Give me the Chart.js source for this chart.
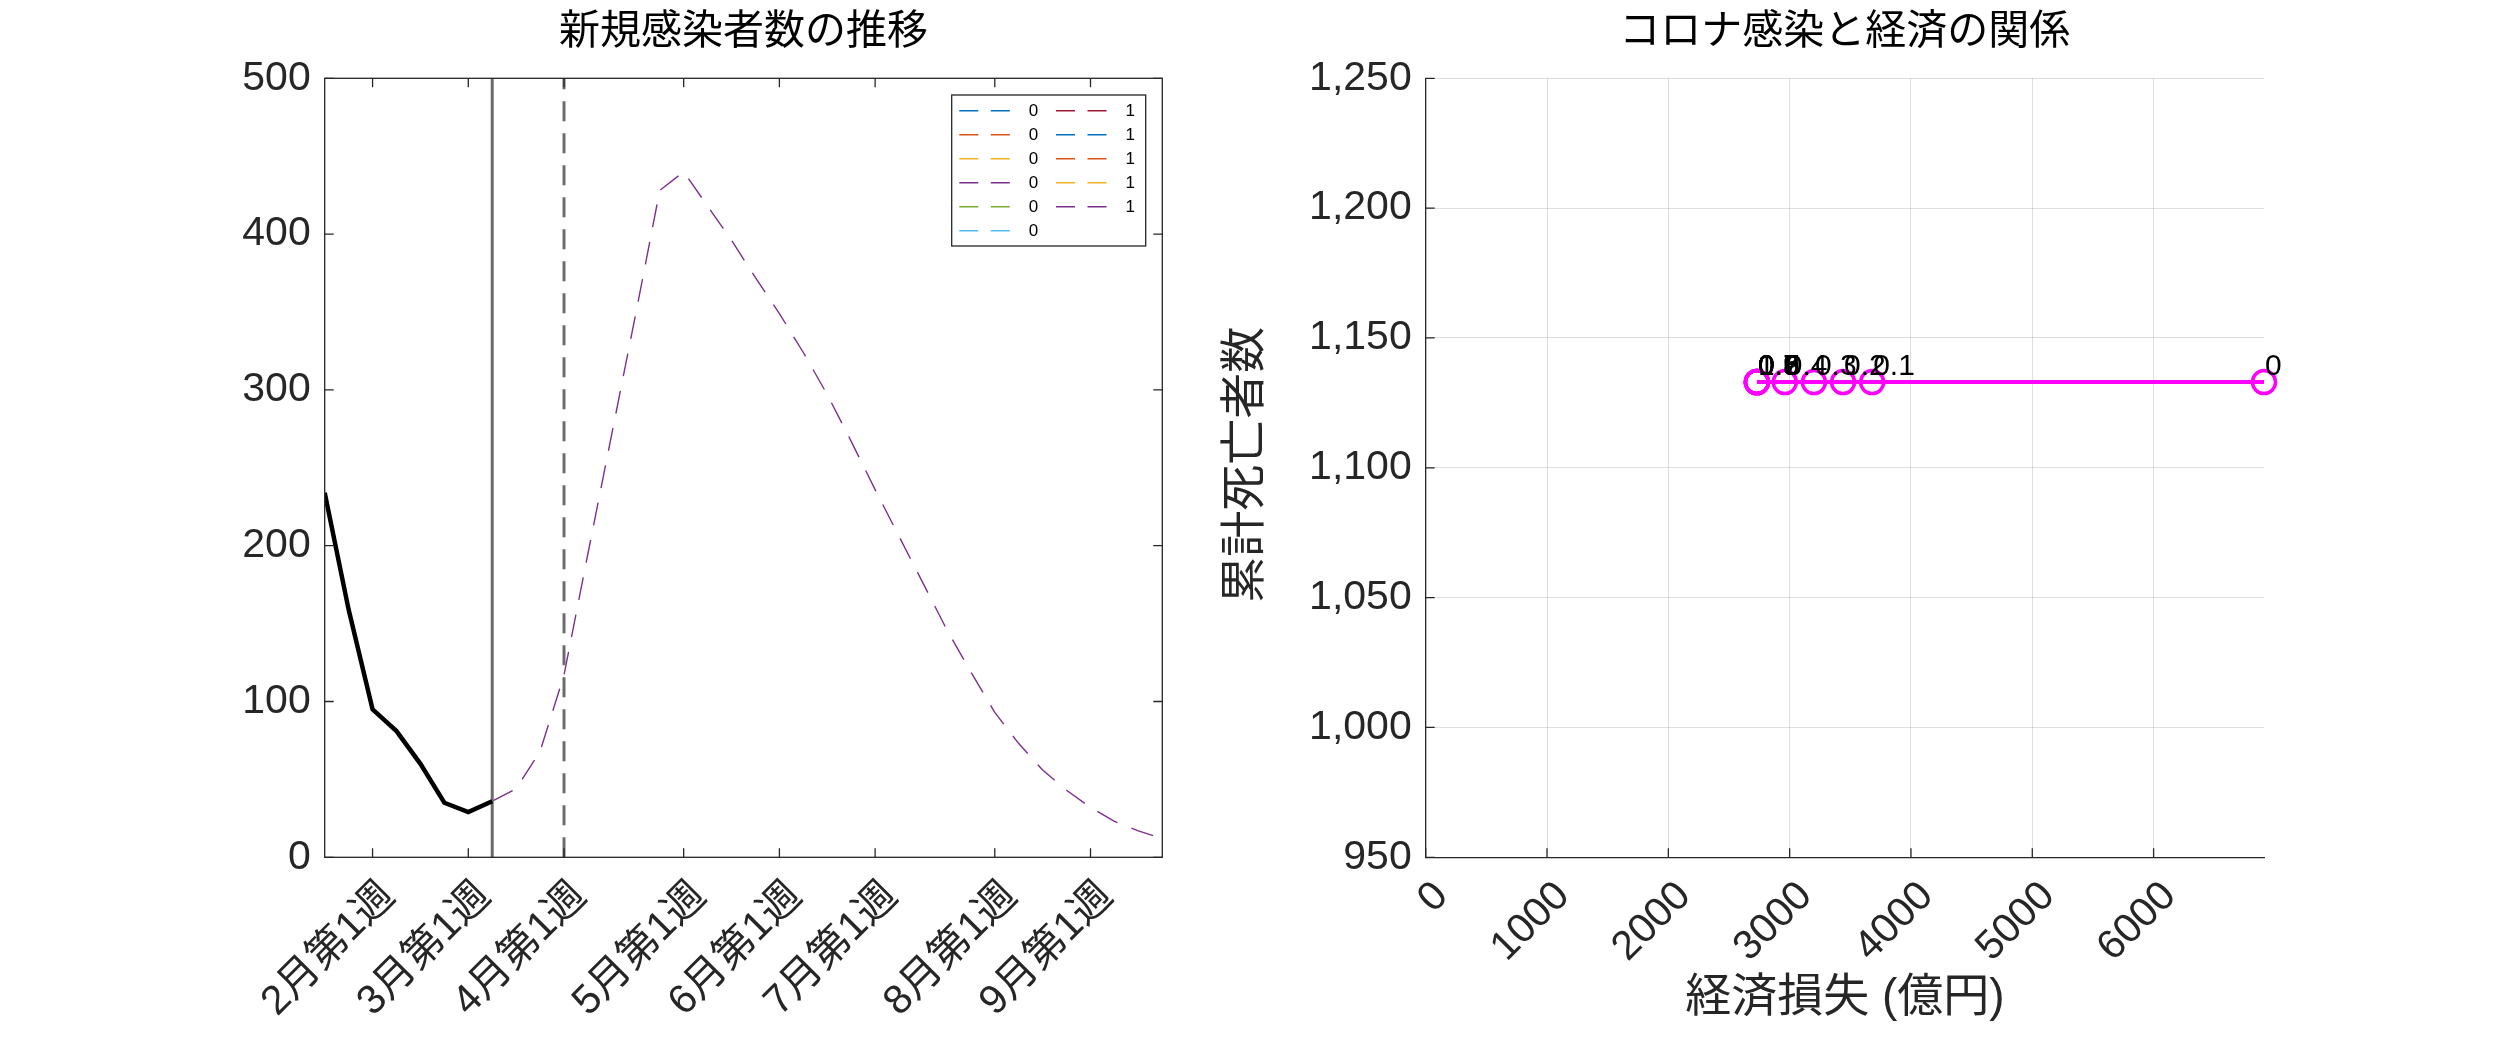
<!DOCTYPE html>
<html>
<head>
<meta charset="utf-8">
<script src="https://cdn.jsdelivr.net/npm/chart.js@4.4.0/dist/chart.umd.min.js"></script>
<style>
  html, body { margin: 0; padding: 0; background: #ffffff; }
  #wrap { position: relative; width: 2500px; height: 1042px; overflow: hidden; }
  canvas { position: absolute; top: 0; }
  #casesChart { left: 0; }
  #tradeoffChart { left: 1180px; }
</style>
</head>
<body>
<div id="wrap">
  <canvas id="casesChart" width="1180" height="1042"></canvas>
  <canvas id="tradeoffChart" width="1320" height="1042"></canvas>
</div>
<script>
// ---- left panel: weekly new cases ----
const weekTickPos = [2, 6, 10, 15, 19, 23, 28, 32];
const weekTickLabels = ['2月第1週', '3月第1週', '4月第1週', '5月第1週', '6月第1週', '7月第1週', '8月第1週', '9月第1週'];
const caseTicks = [0, 100, 200, 300, 400, 500];

const observedWeeks = [0, 1, 2, 3, 4, 5, 6, 7];
const observedCases = [234, 159, 95, 81, 60, 35, 29, 36];

const forecastWeeks = [7, 8, 9, 10, 11, 12, 13, 14, 15, 16, 17, 18, 19, 20, 21,
                       22, 23, 24, 25, 26, 27, 28, 29, 30, 31, 32, 33, 34, 35];
const forecastCases = [36, 44, 68, 117, 195, 272, 349, 428, 440, 418, 396, 372, 349, 324, 297,
                       267, 236, 206, 176, 146, 119, 93, 73, 56, 43, 32, 23, 17, 12];

// legend entries; only the last scenario's curve is visible in the picture
const scenarioLabels = ['0', '0', '0', '0', '0', '0', '1', '1', '1', '1', '1'];
const scenarioColors = ['#0072BD', '#D95319', '#EDB120', '#7E2F8E', '#77AC30', '#4DBEEE',
                        '#A2142F', '#0072BD', '#D95319', '#EDB120', '#7E2F8E'];
const visibleScenario = 10;

const currentWeek = 7;   // solid marker
const policyWeek = 10;   // dashed marker

// ---- right panel: infections vs economy ----
const lockdownLevels = ['1', '0.9', '0.8', '0.7', '0.6', '0.5', '0.4', '0.3', '0.2', '0.1', '0'];
const economicLoss = [2730, 2730, 2730, 2730, 2730, 2730, 2960, 3200, 3440, 3680, 6910];
const cumulativeDeaths = [1133, 1133, 1133, 1133, 1133, 1133, 1133, 1133, 1133, 1133, 1133];
const deathTicks = [950, 1000, 1050, 1100, 1150, 1200, 1250];
const lossTicks = [0, 1000, 2000, 3000, 4000, 5000, 6000];

const FONT = "'Liberation Sans', 'Noto Sans CJK JP', sans-serif";
const INK = '#262626';
const TICK_FONT = 41;

Chart.defaults.font.family = FONT;
Chart.defaults.color = INK;

// draws MATLAB-style inward tick marks (and optional box)
function drawInwardTicks(chart, box) {
  const ctx = chart.ctx;
  const a = chart.chartArea;
  const xs = chart.scales.x, ys = chart.scales.y;
  const len = 9;
  ctx.save();
  ctx.strokeStyle = INK;
  ctx.lineWidth = 1.3;
  ctx.beginPath();
  xs.ticks.forEach(t => {
    const px = xs.getPixelForValue(t.value);
    ctx.moveTo(px, a.bottom); ctx.lineTo(px, a.bottom - len);
    if (box) { ctx.moveTo(px, a.top); ctx.lineTo(px, a.top + len); }
  });
  ys.ticks.forEach(t => {
    const py = ys.getPixelForValue(t.value);
    ctx.moveTo(a.left, py); ctx.lineTo(a.left + len, py);
    if (box) { ctx.moveTo(a.right, py); ctx.lineTo(a.right - len, py); }
  });
  ctx.stroke();
  if (box) {
    ctx.strokeRect(a.left, a.top, a.right - a.left, a.bottom - a.top);
  }
  ctx.restore();
}

function drawTitle(chart, text) {
  const ctx = chart.ctx;
  const a = chart.chartArea;
  ctx.save();
  ctx.fillStyle = '#000000';
  ctx.font = '41px ' + FONT;
  ctx.textAlign = 'center';
  ctx.textBaseline = 'middle';
  ctx.fillText(text, (a.left + a.right) / 2, 33);
  ctx.restore();
}

const casesPlugin = {
  id: 'casesDecor',
  afterDraw(chart) {
    drawInwardTicks(chart, true);
    drawTitle(chart, '新規感染者数の推移');

    // legend: two columns, column-major
    const ctx = chart.ctx;
    const box = { left: 951.7, top: 95, right: 1145.7, bottom: 246 };
    ctx.save();
    ctx.fillStyle = '#ffffff';
    ctx.fillRect(box.left, box.top, box.right - box.left, box.bottom - box.top);
    ctx.strokeStyle = INK;
    ctx.lineWidth = 1.3;
    ctx.strokeRect(box.left, box.top, box.right - box.left, box.bottom - box.top);
    ctx.font = '17px ' + FONT;
    ctx.textBaseline = 'middle';
    ctx.textAlign = 'left';
    const perCol = 6;
    scenarioLabels.forEach((lab, i) => {
      const col = Math.floor(i / perCol);
      const row = i % perCol;
      const x0 = box.left + 7.6 + col * 96.7;
      const y = box.top + 15.7 + row * 24;
      ctx.strokeStyle = scenarioColors[i];
      ctx.lineWidth = 1.4;
      ctx.setLineDash([19, 12.5]);
      ctx.beginPath();
      ctx.moveTo(x0, y); ctx.lineTo(x0 + 51.5, y);
      ctx.stroke();
      ctx.setLineDash([]);
      ctx.fillStyle = '#000000';
      ctx.fillText(lab, x0 + 69.5, y + 1);
    });
    ctx.restore();
  }
};

const tradeoffPlugin = {
  id: 'tradeoffDecor',
  afterDraw(chart) {
    drawInwardTicks(chart, false);
    drawTitle(chart, 'コロナ感染と経済の関係');
    const ctx = chart.ctx;
    const a = chart.chartArea;
    ctx.save();
    ctx.fillStyle = INK;
    ctx.font = '46px ' + FONT;
    ctx.textAlign = 'center';
    ctx.textBaseline = 'middle';
    ctx.fillText('経済損失 (億円)', (a.left + a.right) / 2, 998);
    ctx.translate(66.5, (a.top + a.bottom) / 2 - 3);
    ctx.rotate(-Math.PI / 2);
    ctx.fillText('累計死亡者数', 0, 0);
    ctx.restore();

    // level labels next to each point
    const xs = chart.scales.x, ys = chart.scales.y;
    ctx.save();
    ctx.fillStyle = '#000000';
    ctx.font = '30px ' + FONT;
    ctx.textAlign = 'left';
    ctx.textBaseline = 'alphabetic';
    lockdownLevels.forEach((lab, i) => {
      const px = xs.getPixelForValue(economicLoss[i]);
      const py = ys.getPixelForValue(cumulativeDeaths[i]);
      ctx.fillText(lab, px + 1, py - 7);
    });
    ctx.restore();
  }
};

// ---------- left chart ----------
const scenarioSets = scenarioLabels.map((lab, i) => ({
  label: lab,
  data: i === visibleScenario ? forecastWeeks.map((w, k) => ({ x: w, y: forecastCases[k] })) : [],
  borderColor: scenarioColors[i],
  borderWidth: 1.4,
  borderDash: [23, 15],
  pointRadius: 0,
  tension: 0,
  order: 30 - i
}));

new Chart(document.getElementById('casesChart'), {
  type: 'line',
  data: {
    datasets: [
      {
        label: 'observed',
        data: observedWeeks.map((w, k) => ({ x: w, y: observedCases[k] })),
        borderColor: '#000000',
        borderWidth: 4.5,
        pointRadius: 0,
        tension: 0,
        order: 0
      },
      {
        label: 'current',
        data: [{ x: currentWeek, y: caseTicks[0] }, { x: currentWeek, y: caseTicks[caseTicks.length - 1] }],
        borderColor: '#6b6b6b',
        borderWidth: 3,
        pointRadius: 0,
        order: 1
      },
      {
        label: 'policy',
        data: [{ x: policyWeek, y: caseTicks[0] }, { x: policyWeek, y: caseTicks[caseTicks.length - 1] }],
        borderColor: '#6b6b6b',
        borderWidth: 3,
        borderDash: [20, 12],
        pointRadius: 0,
        order: 2
      },
      ...scenarioSets
    ]
  },
  options: {
    responsive: false,
    animation: false,
    events: [],
    layout: { padding: { left: 0, top: 78.3, right: 17.7, bottom: 0 } },
    plugins: { legend: { display: false }, tooltip: { enabled: false }, title: { display: false } },
    scales: {
      x: {
        type: 'linear',
        min: 0,
        max: 35,
        grid: { display: false, drawTicks: false },
        border: { display: false },
        afterBuildTicks: s => { s.ticks = weekTickPos.map(v => ({ value: v })); },
        afterFit: s => { s.height = 1042 - 857.3; },
        ticks: {
          autoSkip: false,
          minRotation: 45,
          maxRotation: 45,
          padding: 15,
          labelOffset: 16,
          color: INK,
          font: { size: TICK_FONT },
          callback: v => weekTickLabels[weekTickPos.indexOf(v)]
        }
      },
      y: {
        type: 'linear',
        min: caseTicks[0],
        max: caseTicks[caseTicks.length - 1],
        grid: { display: false, drawTicks: false },
        border: { display: false },
        afterBuildTicks: s => { s.ticks = caseTicks.map(v => ({ value: v })); },
        afterFit: s => { s.width = 324.7; },
        ticks: { padding: 14, color: INK, font: { size: TICK_FONT } }
      }
    }
  },
  plugins: [casesPlugin]
});

// ---------- right chart ----------
new Chart(document.getElementById('tradeoffChart'), {
  type: 'line',
  data: {
    datasets: [{
      label: 'tradeoff',
      data: economicLoss.map((v, i) => ({ x: v, y: cumulativeDeaths[i] })),
      borderColor: '#FF00FF',
      borderWidth: 4,
      pointStyle: 'circle',
      pointRadius: 11.5,
      pointBorderWidth: 3.5,
      pointBorderColor: '#FF00FF',
      pointBackgroundColor: 'rgba(0,0,0,0)',
      tension: 0,
      clip: false
    }]
  },
  options: {
    responsive: false,
    animation: false,
    events: [],
    layout: { padding: { left: 0, top: 78.3, right: 236, bottom: 0 } },
    plugins: { legend: { display: false }, tooltip: { enabled: false }, title: { display: false } },
    scales: {
      x: {
        type: 'linear',
        min: 0,
        max: economicLoss[economicLoss.length - 1],
        grid: { display: true, drawTicks: false, color: 'rgba(38,38,38,0.15)', lineWidth: 1 },
        border: { display: true, color: INK, width: 1.3 },
        afterBuildTicks: s => { s.ticks = lossTicks.map(v => ({ value: v })); },
        afterFit: s => { s.height = 1042 - 857.3; },
        ticks: {
          autoSkip: false,
          minRotation: 45,
          maxRotation: 45,
          padding: 15,
          labelOffset: 16,
          color: INK,
          font: { size: TICK_FONT },
          callback: v => String(v)
        }
      },
      y: {
        type: 'linear',
        min: deathTicks[0],
        max: deathTicks[deathTicks.length - 1],
        grid: { display: true, drawTicks: false, color: 'rgba(38,38,38,0.15)', lineWidth: 1 },
        border: { display: true, color: INK, width: 1.3 },
        afterBuildTicks: s => { s.ticks = deathTicks.map(v => ({ value: v })); },
        afterFit: s => { s.width = 245.7; },
        ticks: {
          padding: 14,
          color: INK,
          font: { size: TICK_FONT },
          callback: v => v.toLocaleString('en-US')
        }
      }
    }
  },
  plugins: [tradeoffPlugin]
});
</script>
</body>
</html>
